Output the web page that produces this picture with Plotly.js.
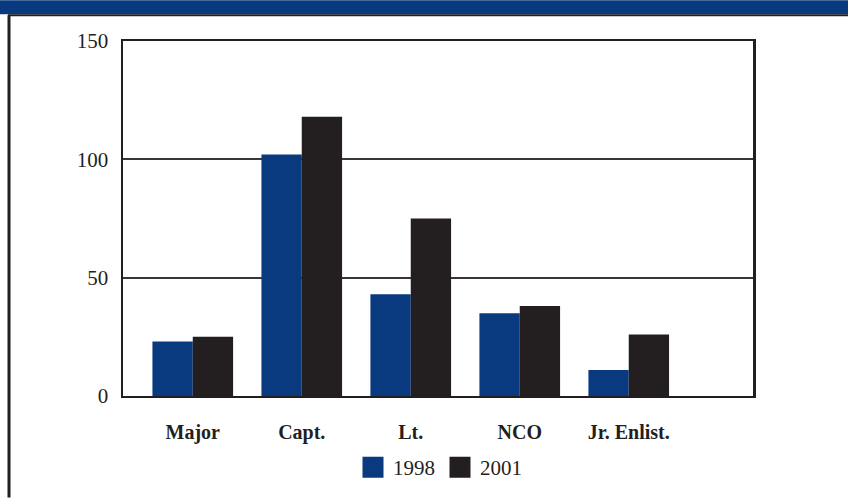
<!DOCTYPE html>
<html>
<head>
<meta charset="utf-8">
<script src="https://cdn.plot.ly/plotly-3.0.1.min.js"></script>
<style>html,body{margin:0;padding:0;background:#fff;}#chart{width:848px;height:500px;}</style>
</head>
<body>
<div id="chart"></div>
<script>
const categories = ["Major", "Capt.", "Lt.", "NCO", "Jr. Enlist."];
const values1998 = [23, 102, 43, 35, 11];
const values2001 = [25, 118, 75, 38, 26];
const seriesNames = ["1998", "2001"];
const yTicks = [0, 50, 100, 150];

const blue = "#093a7f";
const black = "#231f20";
const serif = "'Liberation Serif', serif";

const W = 848, H = 500, L = 123, R = 95, T = 41, B = 102;
const pw = W - L - R, ph = H - T - B;
const px = x => (x - L) / pw;
const py = y => (H - B - y) / ph;

const traces = [
  {type: "bar", x: categories, y: values1998, name: seriesNames[0], marker: {color: blue}, showlegend: false},
  {type: "bar", x: categories, y: values2001, name: seriesNames[1], marker: {color: black}, showlegend: false},
  {type: "scatter", mode: "markers", x: [null], y: [null], name: seriesNames[0], marker: {symbol: "square", size: 16, color: blue, line: {color: blue, width: 5}}},
  {type: "scatter", mode: "markers", x: [null], y: [null], name: seriesNames[1], marker: {symbol: "square", size: 16, color: black, line: {color: black, width: 5}}}
];

const layout = {
  width: W, height: H,
  margin: {l: L, r: R, t: T, b: B, pad: 0},
  paper_bgcolor: "#fff", plot_bgcolor: "#fff",
  font: {family: serif, color: black},
  barmode: "group",
  bargap: 0.26,
  bargroupgap: 0,
  xaxis: {
    type: "category",
    range: [-0.64, 5.14],
    tickvals: categories,
    ticktext: categories,
    tickfont: {family: serif, size: 20, weight: "bold", color: black},
    ticks: "", ticklen: 0, ticklabelstandoff: 17,
    showgrid: false, zeroline: false,
    showline: true, mirror: true, linecolor: black, linewidth: 2,
    automargin: false
  },
  yaxis: {
    range: [0, 150],
    tickvals: yTicks,
    tickfont: {family: serif, size: 21, color: black},
    ticks: "", ticklabelstandoff: 8,
    showgrid: true, gridcolor: "#3a3637", gridwidth: 2,
    zeroline: false,
    showline: true, mirror: true, linecolor: black, linewidth: 2.5,
    automargin: false
  },
  legend: {
    orientation: "h", x: px(440), xanchor: "center", y: py(470), yanchor: "middle",
    font: {family: serif, size: 21, color: black}, itemwidth: 30, tracegroupgap: 0,
    bgcolor: "rgba(0,0,0,0)"
  },
  shapes: [
    {type: "rect", xref: "paper", yref: "paper", x0: px(0), x1: px(W), y0: py(14), y1: py(0), fillcolor: blue, line: {width: 0}, layer: "above"},
    {type: "line", xref: "paper", yref: "paper", x0: px(8), x1: px(W), y0: py(15), y1: py(15), line: {color: black, width: 2}},
    {type: "line", xref: "paper", yref: "paper", x0: px(9), x1: px(9), y0: py(15), y1: py(H), line: {color: black, width: 3}}
  ],
  hovermode: false
};

Plotly.newPlot("chart", traces, layout, {displayModeBar: false, staticPlot: true});
</script>
</body>
</html>
